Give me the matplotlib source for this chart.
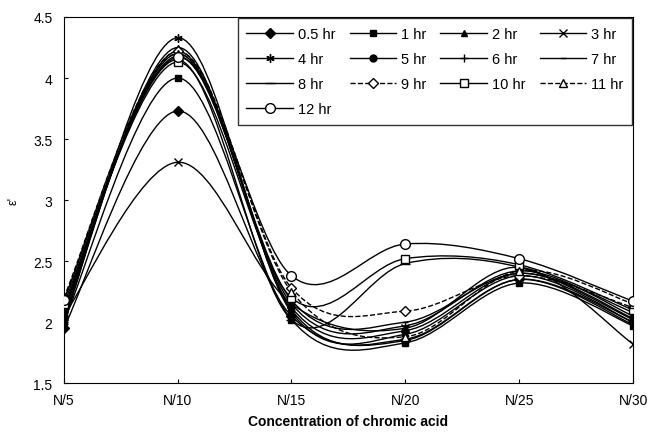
import numpy as np
import matplotlib
matplotlib.use("Agg")
import matplotlib.pyplot as plt
from matplotlib.path import Path
from matplotlib.patches import PathPatch
from matplotlib.lines import Line2D

plt.rcParams['font.family'] = ['Liberation Sans', 'DejaVu Sans']

# concentrations on the x axis
conc = ["N/5", "N/10", "N/15", "N/20", "N/25", "N/30"]

hours = ["0.5 hr", "1 hr", "2 hr", "3 hr", "4 hr", "5 hr", "6 hr",
         "7 hr", "8 hr", "9 hr", "10 hr", "11 hr", "12 hr"]

# epsilon' values
h05 = [1.95, 3.73, 2.05, 1.85, 2.35, 2.00]
h1 = [2.00, 4.00, 2.02, 1.83, 2.32, 1.97]
h2 = [2.02, 4.25, 2.10, 1.86, 2.35, 1.98]
h3 = [2.05, 3.31, 2.15, 1.95, 2.45, 1.82]
h4 = [2.00, 4.33, 2.08, 1.90, 2.38, 2.00]
h5 = [2.05, 4.22, 2.12, 1.93, 2.40, 2.03]
h6 = [2.08, 4.20, 2.15, 1.97, 2.42, 2.05]
h7 = [2.10, 4.18, 2.18, 2.00, 2.40, 2.08]
h8 = [2.12, 4.15, 2.02, 2.48, 2.45, 2.02]
h9 = [2.18, 4.22, 2.28, 2.09, 2.38, 2.12]
h10 = [2.15, 4.13, 2.20, 2.52, 2.47, 2.10]
h11 = [2.20, 4.20, 2.25, 1.88, 2.42, 2.15]
h12 = [2.18, 4.17, 2.38, 2.64, 2.52, 2.17]

series = [h05, h1, h2, h3, h4, h5, h6, h7, h8, h9, h10, h11, h12]
markers = ['D', 's', '^', 'x', (6, 2, 0), 'o', '+', '_', '_', 'D', 's', '^', 'o']
filled = [True, True, True, True, True, True, True, True, True, False, False, False, False]
styles = ['-', '-', '-', '-', '-', '-', '-', '-', '-', '--', '-', '--', '-']
msizes = [5, 5, 5, 6, 6, 5, 6, 5, 7, 5, 6, 6, 7]


def smooth_path(x, y):
    # excel-like smoothed line: catmull-rom turned into bezier segments
    p = np.column_stack([x, y]).astype(float)
    n = len(p)
    verts = [p[0]]
    codes = [Path.MOVETO]
    for i in range(n - 1):
        p0 = p[i - 1] if i > 0 else p[i]
        p3 = p[i + 2] if i + 2 < n else p[i + 1]
        c1 = p[i] + (p[i + 1] - p0) / 6
        c2 = p[i + 1] - (p3 - p[i]) / 6
        verts += [c1, c2, p[i + 1]]
        codes += [Path.CURVE4] * 3
    return Path(verts, codes)


fig = plt.figure(figsize=(6.5, 4.39), dpi=100)
ax = fig.add_axes([0.098, 0.125, 0.876, 0.834])

xs = np.arange(len(conc))
handles = []
for vals, lab, mk, fl, ls, ms in zip(series, hours, markers, filled, styles, msizes):
    ax.add_patch(PathPatch(smooth_path(xs, vals), fill=False, edgecolor='black',
                           lw=1.0, linestyle=ls))
    fc = 'black' if fl else 'white'
    ax.plot(xs, vals, linestyle='none', marker=mk, ms=ms, mfc=fc, mec='black',
            mew=1.0, color='black', zorder=3)
    handles.append(Line2D([], [], color='black', lw=1.0, linestyle=ls, marker=mk,
                          ms=ms, mfc=fc, mec='black', mew=1.0, label=lab))

ax.set_xlim(0, 5)
ax.set_ylim(1.5, 4.5)
ax.set_xticks(xs)
ax.set_xticklabels(conc)
ax.set_yticks(np.arange(1.5, 4.51, 0.5))
ax.set_yticklabels(['1.5', '2', '2.5', '3', '3.5', '4', '4.5'])
ax.tick_params(direction='in', length=3, labelsize=10)
ax.tick_params(axis='x', pad=7)
ax.tick_params(axis='y', pad=8)
ax.set_xlabel("Concentration of chromic acid", fontsize=10, fontweight='bold', labelpad=5)
ax.set_ylabel("ε'", fontsize=9, labelpad=10)

# legend reads row by row in the picture, matplotlib fills by column
order = [0, 4, 8, 12, 1, 5, 9, 2, 6, 10, 3, 7, 11]
leg = ax.legend(handles=[handles[i] for i in order], ncol=4, loc='upper right',
                fontsize=10.5, frameon=True, fancybox=False, edgecolor='black',
                borderaxespad=0.1, handlelength=3.2, handletextpad=0.3,
                columnspacing=1.0, labelspacing=0.75, borderpad=0.6)
leg.get_frame().set_linewidth(1.0)

fig.savefig("out.png", dpi=100)
